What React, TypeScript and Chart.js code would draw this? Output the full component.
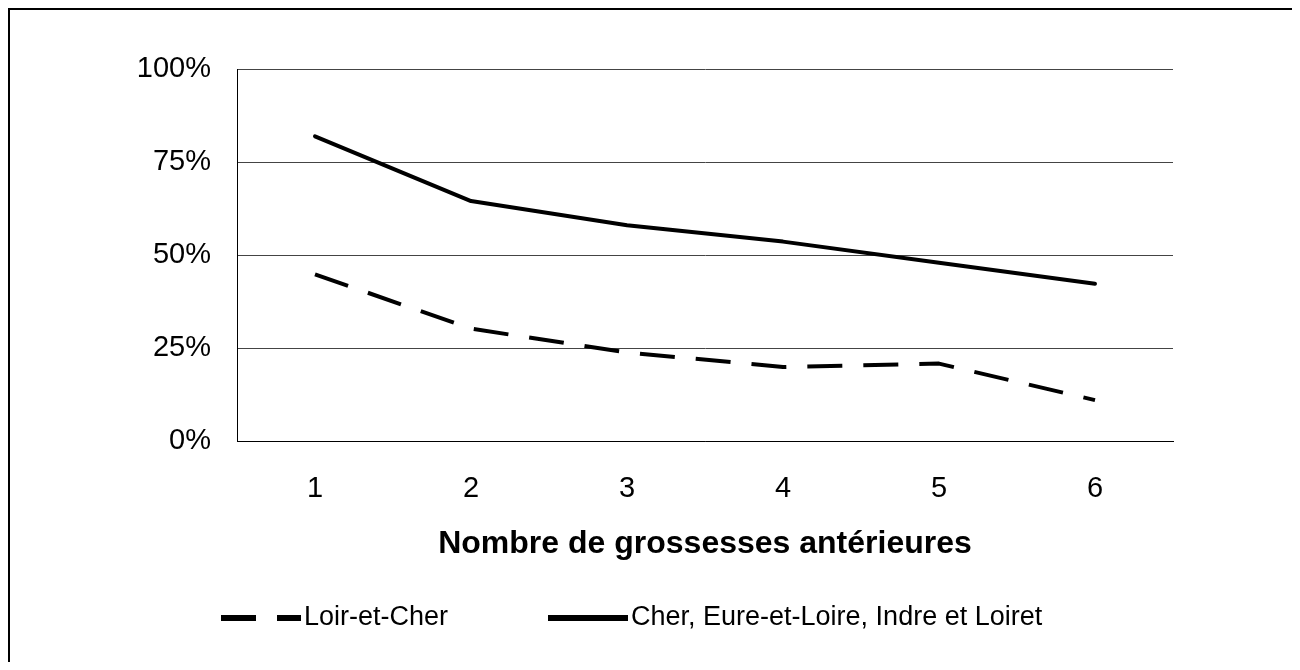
import React, { useEffect, useRef } from "react";
import { Chart, registerables } from "chart.js";

Chart.register(...registerables);

const categories = ["1", "2", "3", "4", "5", "6"];
const loirEtCher = [44.8, 30.2, 23.8, 19.9, 20.8, 11.0];
const autresDepartements = [81.9, 64.5, 58.0, 53.6, 47.9, 42.3];
const seriesLabels = ["Loir-et-Cher", "Cher, Eure-et-Loire, Indre et Loiret"];
const yTickValues = [0, 25, 50, 75, 100];
const xAxisTitle = "Nombre de grossesses antérieures";

const FONT = "'Liberation Sans', Arial, sans-serif";

const legendPlugin = {
  id: "customLegend",
  afterDraw(chart: any, _args: any, opts: any) {
    const ctx = chart.ctx;
    ctx.save();
    chart.data.datasets.forEach((ds: any, i: number) => {
      const x = opts.xs[i];
      const y = opts.y;
      ctx.beginPath();
      ctx.setLineDash(ds.borderDash || []);
      ctx.lineWidth = opts.lineWidth;
      ctx.strokeStyle = ds.borderColor;
      ctx.lineCap = "butt";
      ctx.moveTo(x, y);
      ctx.lineTo(x + opts.sampleWidth, y);
      ctx.stroke();
      ctx.setLineDash([]);
      ctx.fillStyle = "#000";
      ctx.font = opts.font;
      ctx.textBaseline = "middle";
      ctx.textAlign = "left";
      ctx.fillText(ds.label, x + opts.sampleWidth + opts.gap, y + opts.textDy);
    });
    ctx.restore();
  },
};

export default function App() {
  const ref = useRef<HTMLCanvasElement | null>(null);

  useEffect(() => {
    if (!ref.current) return;
    const chart = new Chart(ref.current, {
      type: "line",
      data: {
        labels: categories,
        datasets: [
          {
            label: seriesLabels[0],
            data: loirEtCher,
            borderColor: "#000",
            backgroundColor: "#000",
            borderWidth: 4,
            borderDash: [35, 21],
            borderCapStyle: "butt",
            borderJoinStyle: "round",
            pointRadius: 0,
            tension: 0,
            fill: false,
          },
          {
            label: seriesLabels[1],
            data: autresDepartements,
            borderColor: "#000",
            backgroundColor: "#000",
            borderWidth: 4,
            borderCapStyle: "round",
            borderJoinStyle: "round",
            pointRadius: 0,
            tension: 0,
            fill: false,
          },
        ],
      },
      options: {
        responsive: false,
        animation: false,
        devicePixelRatio: 1,
        layout: { padding: { left: 0, right: 119, top: 59, bottom: 99 } },
        plugins: {
          legend: { display: false },
          tooltip: { enabled: false },
          customLegend: {
            xs: [211, 538],
            y: 608,
            textDy: 0,
            sampleWidth: 80,
            gap: 3,
            lineWidth: 6,
            font: `27px ${FONT}`,
          },
        } as any,
        scales: {
          x: {
            offset: true,
            grid: { display: false, drawTicks: false },
            border: { display: true, color: "#000", width: 1 },
            ticks: {
              color: "#000",
              padding: 31,
              font: { family: FONT, size: 29 },
            },
            title: {
              display: true,
              text: xAxisTitle,
              color: "#000",
              padding: { top: 0, bottom: 0 },
              font: { family: FONT, size: 32, weight: "bold" },
            },
            afterFit: (scale: any) => {
              scale.height = 122;
            },
          },
          y: {
            min: 0,
            max: 100,
            afterBuildTicks: (scale: any) => {
              scale.ticks = yTickValues.map((v) => ({ value: v }));
            },
            grid: { color: "#444", lineWidth: 1, drawTicks: false },
            border: { display: true, color: "#000", width: 1 },
            ticks: {
              color: "#000",
              padding: 26,
              font: { family: FONT, size: 29 },
              callback: (v: any) => `${v}%`,
            },
            afterFit: (scale: any) => {
              scale.width = 227;
            },
          },
        },
      },
      plugins: [legendPlugin],
    });
    return () => chart.destroy();
  }, []);

  return (
    <div
      style={{
        borderTop: "2px solid #000",
        borderLeft: "2px solid #000",
        width: 1282,
        height: 652,
        background: "#fff",
      }}
    >
      <canvas ref={ref} width={1282} height={652} style={{ display: "block" }} />
    </div>
  );
}
